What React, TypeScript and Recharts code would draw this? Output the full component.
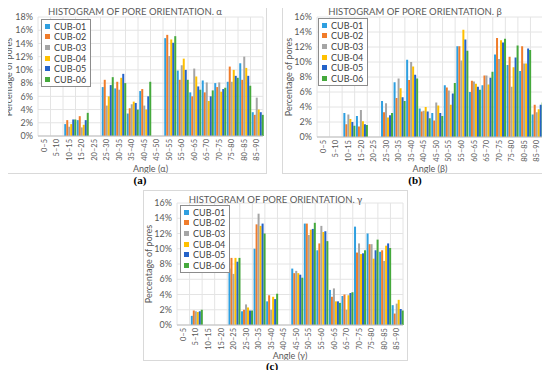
import { BarChart, Bar, XAxis, YAxis, CartesianGrid } from 'recharts'

const categories = [
  '0–5', '5–10', '10–15', '15–20', '20–25', '25–30', '30–35', '35–40', '40–45',
  '45–50', '50–55', '55–60', '60–65', '65–70', '70–75', '75–80', '80–85', '85–90',
]
const seriesNames = ['CUB-01', 'CUB-02', 'CUB-03', 'CUB-04', 'CUB-05', 'CUB-06']
const seriesColors = ['#2E9FE0', '#F07C2A', '#A5A5A5', '#FFC000', '#2462C8', '#45A93C']

// alpha
const alphaCub01 = [0, 0, 1.8, 2.4, 0, 7.4, 7.2, 3.4, 6.8, 0, 14.8, 9.9, 6.6, 8.4, 8.0, 8.2, 11.0, 3.6]
const alphaCub02 = [0, 0, 2.4, 3.0, 0, 8.5, 8.2, 4.2, 7.1, 0, 15.3, 8.5, 6.0, 6.6, 7.4, 10.5, 8.5, 3.2]
const alphaCub03 = [0, 0, 1.4, 1.3, 0, 4.6, 7.0, 4.8, 4.6, 0, 12.1, 10.7, 10.2, 8.1, 8.1, 8.2, 12.0, 5.8]
const alphaCub04 = [0, 0, 1.8, 1.7, 0, 6.0, 8.8, 5.2, 4.0, 0, 14.6, 11.7, 9.0, 5.3, 6.7, 10.0, 10.3, 4.0]
const alphaCub05 = [0, 0, 2.5, 2.4, 0, 7.7, 9.4, 5.0, 6.0, 0, 14.1, 10.0, 7.5, 6.0, 7.1, 9.1, 9.1, 3.6]
const alphaCub06 = [0, 0, 2.5, 3.5, 0, 8.9, 8.0, 4.0, 8.2, 0, 15.1, 8.5, 7.0, 6.9, 7.3, 8.8, 7.6, 3.2]

// beta
const betaCub01 = [0, 0, 3.2, 2.8, 0, 4.8, 7.3, 10.3, 3.8, 3.2, 6.9, 12.1, 6.0, 6.9, 11.0, 9.6, 8.8, 3.0]
const betaCub02 = [0, 0, 1.7, 1.4, 0, 3.3, 5.2, 7.6, 3.4, 2.2, 6.6, 12.1, 7.5, 8.2, 13.2, 10.7, 12.1, 4.3]
const betaCub03 = [0, 0, 3.0, 3.6, 0, 4.5, 7.8, 10.0, 3.5, 4.6, 6.2, 10.2, 7.4, 8.2, 10.4, 6.7, 9.8, 3.3]
const betaCub04 = [0, 0, 2.4, 2.1, 0, 2.6, 6.5, 9.4, 4.0, 4.2, 4.3, 14.3, 7.1, 7.0, 12.9, 9.3, 9.8, 3.7]
const betaCub05 = [0, 0, 2.0, 1.7, 0, 2.9, 5.3, 8.3, 3.4, 3.2, 5.8, 13.0, 6.7, 7.9, 12.6, 10.6, 11.8, 4.3]
const betaCub06 = [0, 0, 1.5, 1.6, 0, 3.2, 4.8, 7.8, 2.5, 2.8, 7.2, 11.5, 6.3, 8.7, 13.1, 12.2, 11.6, 4.6]

// gamma
const gammaCub01 = [0, 1.2, 0, 0, 7.4, 1.8, 10.0, 3.1, 0, 7.4, 13.3, 9.8, 4.6, 3.8, 12.9, 12.0, 9.6, 2.6]
const gammaCub02 = [0, 1.9, 0, 0, 8.8, 2.0, 13.2, 3.9, 0, 6.8, 13.3, 10.7, 3.7, 4.0, 9.5, 10.6, 9.8, 1.5]
const gammaCub03 = [0, 1.8, 0, 0, 6.7, 2.7, 14.6, 2.0, 0, 7.1, 11.8, 13.0, 4.8, 2.0, 10.7, 10.6, 8.4, 2.8]
const gammaCub04 = [0, 1.7, 0, 0, 8.8, 2.3, 13.0, 3.7, 0, 6.8, 12.5, 12.2, 3.1, 3.9, 9.3, 8.7, 10.4, 3.3]
const gammaCub05 = [0, 1.8, 0, 0, 8.3, 1.9, 13.3, 3.4, 0, 6.6, 12.6, 12.3, 3.1, 4.2, 9.4, 9.8, 10.7, 2.1]
const gammaCub06 = [0, 2.0, 0, 0, 8.8, 1.9, 12.0, 4.1, 0, 6.2, 13.4, 11.0, 2.9, 4.3, 9.8, 11.2, 10.1, 1.9]

const ticks18 = [0, 2, 4, 6, 8, 10, 12, 14, 16, 18]
const ticks16 = [0, 2, 4, 6, 8, 10, 12, 14, 16]

const FONT = 'Lato, "Open Sans", sans-serif'
const TEXT = '#595959'

const buildRows = (series: number[][]) =>
  categories.map((cat, i) => {
    const row: Record<string, number | string> = { cat }
    series.forEach((s, k) => {
      row[seriesNames[k]] = s[i]
    })
    return row
  })

const XTick = (props: any) => {
  const { x, y, payload } = props
  return (
    <text
      x={x - 1}
      y={y}
      dy="0.35em"
      textAnchor="end"
      transform={`rotate(-90, ${x}, ${y})`}
      fill={TEXT}
      fontSize={7.5}
      fontFamily={FONT}
    >
      {payload.value}
    </text>
  )
}

interface PanelProps {
  series: number[][]
  ticks: number[]
  letter: string
  left: number
  top: number
  width: number
  height: number
  yAxisWidth: number
  marginTop: number
  marginRight: number
  xAxisHeight: number
  legendLeft: number
  legendTop: number
  yLabelX: number
  caption: string
  captionX: number
  captionY: number
}

function Panel(p: PanelProps) {
  const rows = buildRows(p.series)
  const n = categories.length
  const plotMidY = p.marginTop + (p.height - 2 - p.marginTop - p.xAxisHeight) / 2
  return (
    <>
      <div
        style={{
          position: 'absolute',
          left: p.left,
          top: p.top,
          width: p.width,
          height: p.height,
          border: '1px solid #D9D9D9',
          boxSizing: 'border-box',
          background: '#fff',
        }}
      >
        <BarChart
          width={p.width - 2}
          height={p.height - 2}
          data={rows}
          margin={{ top: p.marginTop, right: p.marginRight, left: 0, bottom: 0 }}
          barCategoryGap="10%"
          barGap={0}
        >
          <CartesianGrid
            stroke="#E4E4E4"
            verticalCoordinatesGenerator={({ offset }: any) =>
              Array.from({ length: n + 1 }, (_, i) => offset.left + (i * offset.width) / n)
            }
          />
          <XAxis
            dataKey="cat"
            interval={0}
            height={p.xAxisHeight}
            tick={<XTick />}
            tickLine={false}
            tickSize={0}
            axisLine={{ stroke: '#BFBFBF' }}
            label={{
              value: `Angle (${p.letter})`,
              position: 'insideBottom',
              offset: 1,
              fill: TEXT,
              fontSize: 9,
              fontFamily: FONT,
            }}
          />
          <YAxis
            domain={[0, p.ticks[p.ticks.length - 1]]}
            ticks={p.ticks}
            interval={0}
            width={p.yAxisWidth}
            tickFormatter={(v) => `${v}%`}
            tick={{ fill: TEXT, fontSize: 9, fontFamily: FONT }}
            tickLine={false}
            tickSize={3}
            tickMargin={2}
            axisLine={false}
          />
          {seriesNames.map((name, k) => (
            <Bar key={name} dataKey={name} fill={seriesColors[k]} isAnimationActive={false} />
          ))}
        </BarChart>
        <div
          style={{
            position: 'absolute',
            left: p.yLabelX,
            top: plotMidY,
            transform: 'translate(-50%, -50%) rotate(-90deg)',
            whiteSpace: 'nowrap',
            fontFamily: FONT,
            fontSize: 9,
            lineHeight: '10px',
            color: TEXT,
          }}
        >
          Percentage of pores
        </div>
        <div
          style={{
            position: 'absolute',
            left: 0,
            right: 0,
            top: 3,
            textAlign: 'center',
            fontFamily: FONT,
            fontSize: 9.5,
            color: TEXT,
          }}
        >
          {`HISTOGRAM OF PORE ORIENTATION. ${p.letter}`}
        </div>
        <div
          style={{
            position: 'absolute',
            left: p.legendLeft,
            top: p.legendTop,
            border: '1px solid #8C8C8C',
            background: '#fff',
            padding: '1px 4px 1px 3px',
            fontFamily: FONT,
            fontSize: 9,
            color: '#404040',
          }}
        >
          {seriesNames.map((name, k) => (
            <div key={name} style={{ display: 'flex', alignItems: 'center', height: 10.6 }}>
              <span
                style={{
                  display: 'inline-block',
                  width: 5,
                  height: 5,
                  background: seriesColors[k],
                  marginRight: 4,
                }}
              />
              {name}
            </div>
          ))}
        </div>
      </div>
      <div
        style={{
          position: 'absolute',
          left: p.captionX - 20,
          width: 40,
          top: p.captionY - 7,
          textAlign: 'center',
          fontFamily: '"Liberation Serif", serif',
          fontSize: 11,
          fontWeight: 'bold',
          color: '#000',
        }}
      >
        ({p.caption})
      </div>
    </>
  )
}

export default function App() {
  return (
    <div style={{ position: 'relative', width: 550, height: 378, margin: -8, background: '#fff' }}>
      <Panel
        series={[alphaCub01, alphaCub02, alphaCub03, alphaCub04, alphaCub05, alphaCub06]}
        ticks={ticks18}
        letter="α"
        left={3}
        top={2}
        width={264}
        height={172}
        yAxisWidth={34}
        marginTop={14}
        marginRight={3}
        xAxisHeight={37}
        legendLeft={37}
        legendTop={16}
        yLabelX={5}
        caption="a"
        captionX={140}
        captionY={181}
      />
      <Panel
        series={[betaCub01, betaCub02, betaCub03, betaCub04, betaCub05, betaCub06]}
        ticks={ticks16}
        letter="β"
        left={282}
        top={2}
        width={266}
        height={172}
        yAxisWidth={34}
        marginTop={14}
        marginRight={4}
        xAxisHeight={36}
        legendLeft={35}
        legendTop={15}
        yLabelX={6}
        caption="b"
        captionX={415}
        captionY={181}
      />
      <Panel
        series={[gammaCub01, gammaCub02, gammaCub03, gammaCub04, gammaCub05, gammaCub06]}
        ticks={ticks16}
        letter="γ"
        left={143}
        top={190}
        width={265}
        height={171}
        yAxisWidth={33}
        marginTop={12}
        marginRight={4}
        xAxisHeight={35}
        legendLeft={36}
        legendTop={14}
        yLabelX={5}
        caption="c"
        captionX={272}
        captionY={367}
      />
    </div>
  )
}
